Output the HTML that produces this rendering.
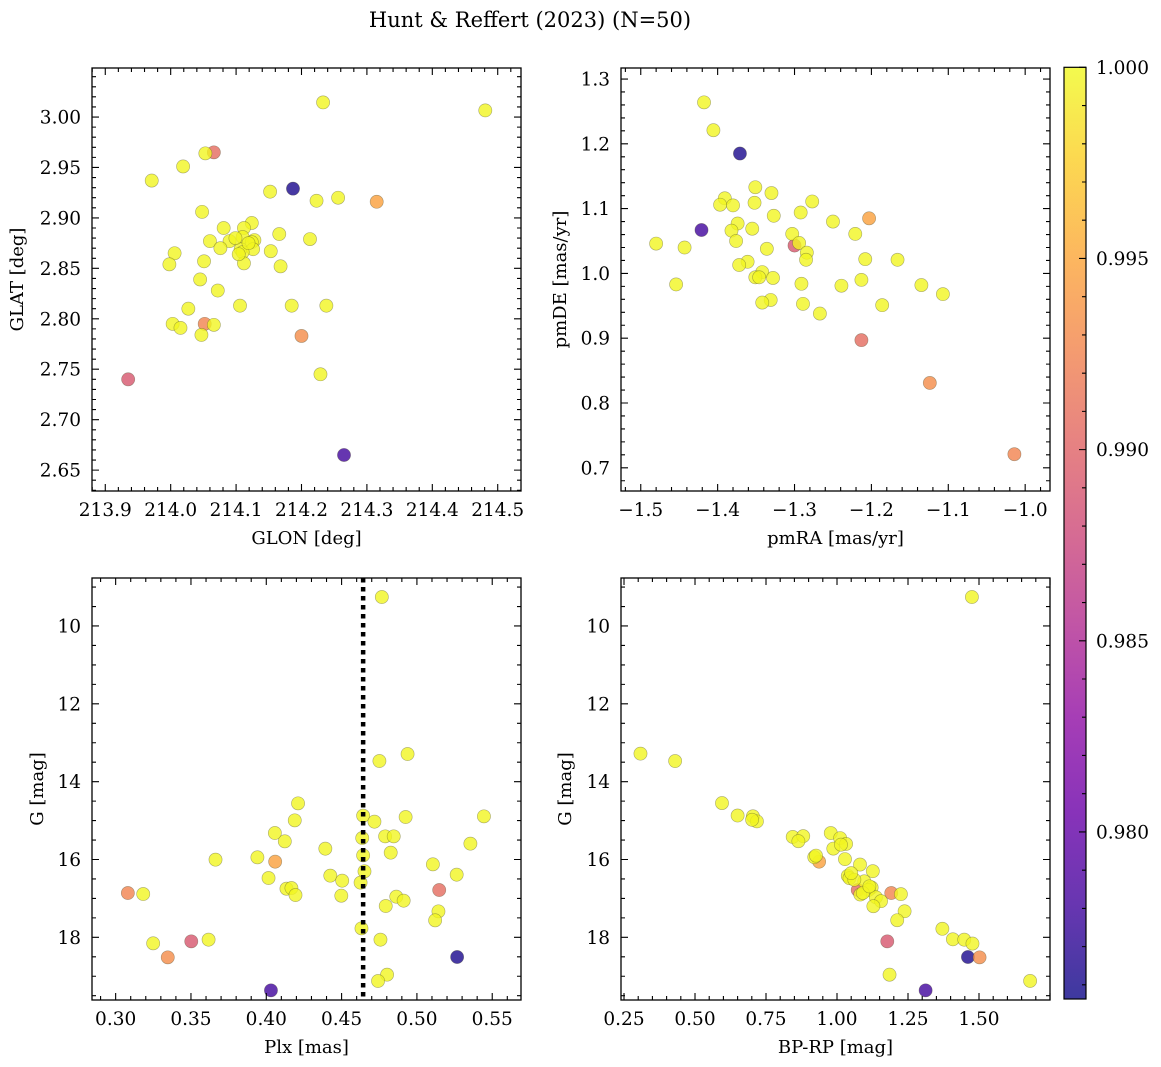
<!DOCTYPE html>
<html><head><meta charset="utf-8"><style>
html,body{margin:0;padding:0;background:#fff;}
svg{display:block;font-family:"DejaVu Serif","Liberation Serif",serif;}
</style></head><body>
<svg id="fig" width="1161" height="1067" viewBox="0 0 1161 1067" xmlns="http://www.w3.org/2000/svg">
<text x="530" y="27" text-anchor="middle" font-size="21" fill="#000">Hunt &amp; Reffert (2023) (N=50)</text>
<defs>
<linearGradient id="plasmaGrad" x1="0" y1="1" x2="0" y2="0">
<stop offset="0" stop-color="#0d0887"/><stop offset="0.1" stop-color="#41049d"/><stop offset="0.2" stop-color="#6a00a8"/><stop offset="0.3" stop-color="#8f0da4"/><stop offset="0.4" stop-color="#b12a90"/><stop offset="0.5" stop-color="#cc4778"/><stop offset="0.6" stop-color="#e16462"/><stop offset="0.7" stop-color="#f2844b"/><stop offset="0.8" stop-color="#fca636"/><stop offset="0.9" stop-color="#fcce25"/><stop offset="1" stop-color="#f0f921"/>
</linearGradient>
</defs>
</svg>
<script>
// ---- data (first 7 stars are the low-probability ones) ----
const prob = [0.9762,0.9780,0.9890,0.9907,0.9925,0.9932,0.9946].concat(new Array(43).fill(0.9998));
const glon = [214.187,214.265,213.935,214.066,214.052,214.200,214.315,
214.233,214.481,214.053,214.019,213.971,214.152,214.223,214.256,214.048,214.081,214.124,214.112,214.166,214.213,214.060,214.090,214.110,214.128,214.124,214.076,214.107,214.126,214.153,214.006,214.110,213.998,214.051,214.112,214.168,214.045,214.072,214.027,214.106,214.185,214.238,214.003,214.015,214.066,214.047,214.229,214.099,214.119,214.104];
const glat = [2.929,2.665,2.740,2.965,2.795,2.783,2.916,
3.0145,3.0066,2.964,2.951,2.937,2.926,2.917,2.920,2.906,2.890,2.895,2.890,2.884,2.879,2.877,2.877,2.881,2.878,2.876,2.870,2.869,2.869,2.867,2.865,2.866,2.854,2.857,2.855,2.852,2.839,2.828,2.810,2.813,2.813,2.813,2.795,2.791,2.794,2.784,2.745,2.880,2.875,2.864];
const pmra = [-1.371,-1.421,-1.300,-1.213,-1.014,-1.124,-1.203,
-1.4177,-1.4055,-1.351,-1.330,-1.3907,-1.3968,-1.380,-1.352,-1.277,-1.292,-1.327,-1.250,-1.374,-1.382,-1.355,-1.221,-1.303,-1.480,-1.443,-1.376,-1.336,-1.294,-1.284,-1.285,-1.208,-1.166,-1.361,-1.372,-1.342,-1.351,-1.346,-1.328,-1.213,-1.291,-1.239,-1.135,-1.454,-1.107,-1.331,-1.342,-1.289,-1.186,-1.267];
const pmde = [1.185,1.067,1.043,0.897,0.721,0.831,1.085,
1.264,1.221,1.133,1.124,1.116,1.106,1.105,1.109,1.111,1.094,1.089,1.080,1.077,1.066,1.069,1.061,1.061,1.046,1.040,1.050,1.038,1.047,1.032,1.021,1.022,1.021,1.018,1.013,1.002,0.994,0.994,0.993,0.990,0.984,0.981,0.982,0.983,0.968,0.959,0.955,0.953,0.951,0.938];
const plx = [0.5267,0.4031,0.3502,0.5148,0.3081,0.3346,0.4059,
0.4767,0.4751,0.4938,0.4211,0.4189,0.4643,0.4718,0.4925,0.5445,0.4057,0.4123,0.4789,0.4846,0.4637,0.5355,0.4392,0.4826,0.4643,0.3663,0.3941,0.5106,0.4652,0.5264,0.4015,0.4425,0.4504,0.4626,0.3183,0.4134,0.4167,0.4194,0.4498,0.4863,0.4912,0.4793,0.5143,0.5121,0.4632,0.3249,0.3617,0.4758,0.4802,0.4742];
const gmag = [18.505,19.362,18.103,16.784,16.861,18.514,16.056,
9.255,13.469,13.289,14.557,14.994,14.874,15.028,14.908,14.891,15.319,15.533,15.405,15.405,15.448,15.593,15.722,15.824,15.893,16.004,15.944,16.124,16.304,16.390,16.475,16.415,16.544,16.595,16.887,16.750,16.733,16.913,16.930,16.955,17.058,17.195,17.332,17.563,17.769,18.154,18.060,18.060,18.959,19.122];
const bprp = [1.461,1.312,1.177,1.073,1.191,1.502,0.937,
1.475,0.308,0.430,0.595,0.650,0.704,0.718,0.701,0.844,0.881,0.864,0.978,1.011,1.032,0.987,1.028,0.920,0.926,1.081,1.126,1.038,1.044,1.096,1.122,1.111,1.225,1.082,1.137,1.155,1.128,1.238,1.212,1.371,1.408,1.448,1.477,1.185,1.680,1.061,1.091,1.014,1.114,1.050];
const gmag4 = [18.505,19.362,18.103,16.784,16.861,18.514,16.056,
9.255,13.28,13.47,14.55,14.87,14.89,15.02,14.98,15.42,15.40,15.53,15.32,15.45,15.60,15.72,15.99,15.94,15.90,16.13,16.30,16.42,16.48,16.56,16.72,16.78,16.89,16.90,16.97,17.07,17.20,17.33,17.56,17.78,18.05,18.06,18.16,18.96,19.12,16.52,16.86,15.62,16.69,16.35];
const plxLine = 0.4643;
const cbTicks = [0.980,0.985,0.990,0.995,1.000];
const vmin = 0.97563, vmax = 1.0;

const NS = "http://www.w3.org/2000/svg";
const svg = document.getElementById('fig');
function mk(tag, attrs, parent){
  const e = document.createElementNS(NS, tag);
  for (const k in attrs) e.setAttribute(k, attrs[k]);
  (parent||svg).appendChild(e); return e;
}
const stops=[[13,8,135],[65,4,157],[106,0,168],[143,13,164],[177,42,144],[204,71,120],[225,100,98],[242,132,75],[252,166,54],[252,206,37],[240,249,33]];
function plasma(v){
  let t=(v-vmin)/(vmax-vmin); t=Math.max(0,Math.min(1,t));
  const p=t*10, i=Math.min(9,Math.floor(p)), f=p-i;
  const c=stops[i].map((a,k)=>Math.round(a+(stops[i+1][k]-a)*f));
  return `rgb(${c[0]},${c[1]},${c[2]})`;
}
function fmt(v,d){ return (v<0?'\u2212':'')+Math.abs(v).toFixed(d); }

function panel(cfg){
  const g = mk('g',{});
  
  
  const {x0,x1,y0,y1}=cfg;
  const sx=v=>x0+(v-cfg.xmin)/(cfg.xmax-cfg.xmin)*(x1-x0);
  const sy=cfg.invert? (v=>y0+(v-cfg.ymin)/(cfg.ymax-cfg.ymin)*(y1-y0)) : (v=>y1-(v-cfg.ymin)/(cfg.ymax-cfg.ymin)*(y1-y0));
  const pg = mk('g',{},g);
  
  
  for(let i=0;i<cfg.xs.length;i++){
    const c = mk('circle',{cx:sx(cfg.xs[i]).toFixed(2),cy:sy(cfg.ys[i]).toFixed(2),r:6.6,fill:plasma(prob[i]),'fill-opacity':0.8,stroke:'#4a4a2a','stroke-opacity':0.45,'stroke-width':0.6},pg);
    
    
  }
  if(cfg.vline!==undefined){
    const l = mk('line',{x1:sx(cfg.vline),x2:sx(cfg.vline),y1:y0,y2:y1,stroke:'#000','stroke-width':4.5,'stroke-dasharray':'4.5 4.5'},g);
    
    
  }
  const fr = mk('rect',{x:x0,y:y0,width:x1-x0,height:y1-y0,fill:'none',stroke:'#000','stroke-width':1.3},g);
  
  
  let d='';
  const eps=1e-9;
  for(let v=Math.ceil(cfg.xmin/cfg.xminor-eps)*cfg.xminor; v<=cfg.xmax+eps; v+=cfg.xminor){
    const px=sx(v); const isMaj=Math.abs(v/cfg.xmajor-Math.round(v/cfg.xmajor))<1e-4; const L=isMaj?7:4;
    d+=`M${px} ${y1}v${-L}M${px} ${y0}v${L}`;
  }
  for(let v=Math.ceil(cfg.ymin/cfg.yminor-eps)*cfg.yminor; v<=cfg.ymax+eps; v+=cfg.yminor){
    const py=sy(v); const isMaj=Math.abs(v/cfg.ymajor-Math.round(v/cfg.ymajor))<1e-4; const L=isMaj?7:4;
    d+=`M${x0} ${py}h${L}M${x1} ${py}h${-L}`;
  }
  mk('path',{d:d,stroke:'#000','stroke-width':1.1,fill:'none'},g);
  for(const v of cfg.xticks){
    const t=mk('text',{x:sx(v),y:y1+25,'text-anchor':'middle','font-size':18.5},g);
    t.textContent=fmt(v,cfg.xd);
    
    
  }
  for(const v of cfg.yticks){
    const t=mk('text',{x:x0-11,y:sy(v)+6.5,'text-anchor':'end','font-size':18.5},g);
    t.textContent=fmt(v,cfg.yd);
    
    
  }
  const xl=mk('text',{x:(x0+x1)/2,y:y1+53,'text-anchor':'middle','font-size':18},g);
  xl.textContent=cfg.xlabel;
  
  
  const yx=cfg.ylabx, yy=(y0+y1)/2;
  const yl=mk('text',{x:yx,y:yy,'text-anchor':'middle','font-size':18,transform:`rotate(-90 ${yx} ${yy})`},g);
  yl.textContent=cfg.ylabel;
  
  
}

panel({name:'position-panel',x0:92,x1:521,y0:68,y1:491,xmin:213.8797,xmax:214.5356,ymin:2.6293,ymax:3.0486,
  xs:glon,ys:glat,xminor:0.02,xmajor:0.1,yminor:0.01,ymajor:0.05,
  xticks:[213.9,214.0,214.1,214.2,214.3,214.4,214.5],xd:1,yticks:[2.65,2.70,2.75,2.80,2.85,2.90,2.95,3.00],yd:2,
  xlabel:'GLON [deg]',ylabel:'GLAT [deg]',ylabx:23});
panel({name:'proper-motion-panel',x0:621,x1:1050,y0:68,y1:491,xmin:-1.5257,xmax:-0.9677,ymin:0.6642,ymax:1.317,
  xs:pmra,ys:pmde,xminor:0.02,xmajor:0.1,yminor:0.02,ymajor:0.1,
  xticks:[-1.5,-1.4,-1.3,-1.2,-1.1,-1.0],xd:1,yticks:[0.7,0.8,0.9,1.0,1.1,1.2,1.3],yd:1,
  xlabel:'pmRA [mas/yr]',ylabel:'pmDE [mas/yr]',ylabx:566});
panel({name:'parallax-mag-panel',x0:92,x1:521,y0:578,y1:1000,xmin:0.2843,xmax:0.5691,ymin:8.767,ymax:19.61,invert:true,
  xs:plx,ys:gmag,xminor:0.01,xmajor:0.05,yminor:0.5,ymajor:2,vline:plxLine,
  xticks:[0.30,0.35,0.40,0.45,0.50,0.55],xd:2,yticks:[10,12,14,16,18],yd:0,
  xlabel:'Plx [mas]',ylabel:'G [mag]',ylabx:43});
panel({name:'cmd-panel',x0:621,x1:1050,y0:578,y1:1000,xmin:0.2394,xmax:1.75,ymin:8.767,ymax:19.61,invert:true,
  xs:bprp,ys:gmag4,xminor:0.05,xmajor:0.25,yminor:0.5,ymajor:2,
  xticks:[0.25,0.50,0.75,1.00,1.25,1.50],xd:2,yticks:[10,12,14,16,18],yd:0,
  xlabel:'BP-RP [mag]',ylabel:'G [mag]',ylabx:571});

const cb = mk('g',{});


const cbx0=1064, cbx1=1086, cby0=67.3, cby1=999;
mk('rect',{x:cbx0,y:cby0,width:cbx1-cbx0,height:cby1-cby0,fill:'url(#plasmaGrad)','fill-opacity':0.8},cb);
mk('rect',{x:cbx0,y:cby0,width:cbx1-cbx0,height:cby1-cby0,fill:'none',stroke:'#000','stroke-width':1.2},cb);
const cy=v=>cby1-(v-vmin)/(vmax-vmin)*(cby1-cby0);
let cd='';
for(let v=0.976; v<=1.00001; v+=0.001){
  const maj=Math.abs(v*200-Math.round(v*200))<1e-4;
  cd+=`M${cbx1} ${cy(v)}h${maj?-7:-4}`;
}
mk('path',{d:cd,stroke:'#000','stroke-width':1.1},cb);
for(const v of cbTicks){
  const t=mk('text',{x:1096,y:cy(v)+6.5,'font-size':18.5},cb);
  t.textContent=v.toFixed(3);
  
  
}
</script>
</body></html>
